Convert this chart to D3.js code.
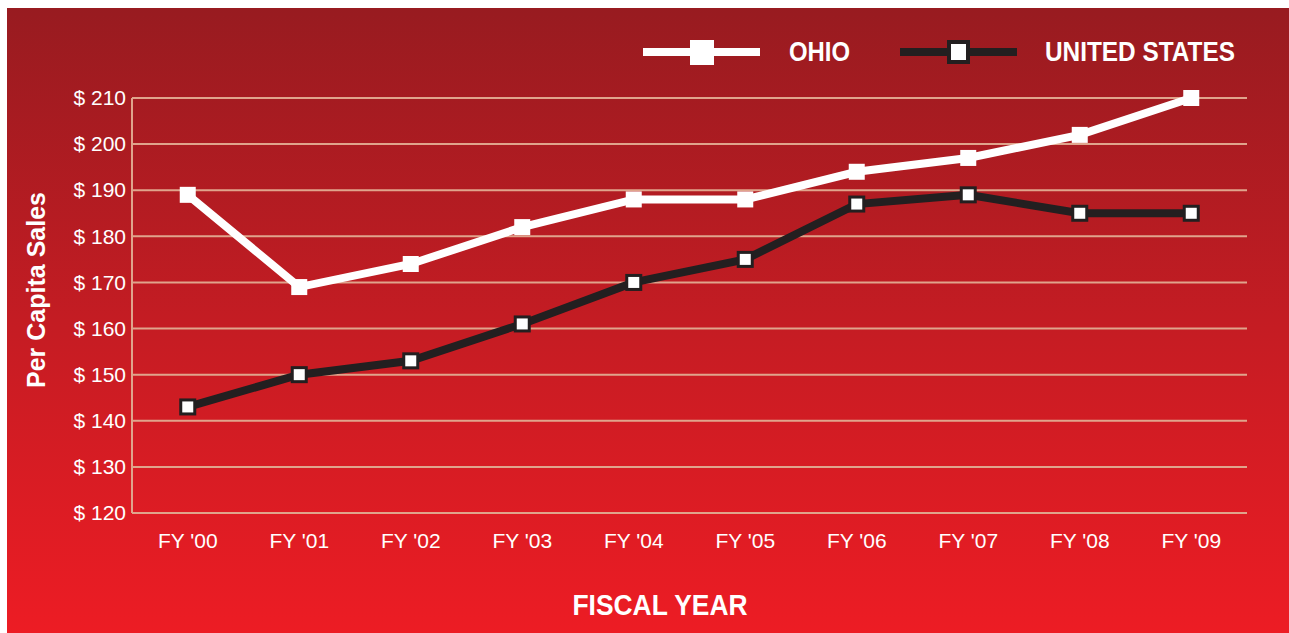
<!DOCTYPE html>
<html><head><meta charset="utf-8">
<script src="https://cdn.jsdelivr.net/npm/d3@7"></script>
<style>
html,body{margin:0;padding:0;background:#fff;}
svg{display:block;}
text{font-family:'Liberation Sans Narrow','Arial Narrow','Liberation Sans',sans-serif;}
</style></head>
<body>
<svg id="chart" width="1289" height="633"></svg>
<script>
const years = ["FY '00","FY '01","FY '02","FY '03","FY '04","FY '05","FY '06","FY '07","FY '08","FY '09"];
const ohio = [189,169,174,182,188,188,194,197,202,210];
const us = [143,150,153,161,170,175,187,189,185,185];
const yTicks = [120,130,140,150,160,170,180,190,200,210];

(function(){
const svg = d3.select("#chart");
const defs = svg.append("defs");
const grad = defs.append("linearGradient").attr("id","bg").attr("x1",0).attr("y1",0).attr("x2",0).attr("y2",1);
grad.append("stop").attr("offset","0%").attr("stop-color","#981b20");
grad.append("stop").attr("offset","50%").attr("stop-color","#c41c23");
grad.append("stop").attr("offset","100%").attr("stop-color","#ed1c24");

svg.append("rect").attr("x",7).attr("y",8).attr("width",1282).attr("height",625).attr("fill","url(#bg)");

const pL=132, pR=1247, pT=98, pB=513;
const x = d3.scaleBand().domain(years).range([pL,pR]);
const y = d3.scaleLinear().domain([120,210]).range([pB,pT]);
const gridColor = "#e0a48c";

svg.append("g").selectAll("line").data(yTicks).join("line")
  .attr("x1",pL).attr("x2",pR).attr("y1",d=>y(d)).attr("y2",d=>y(d))
  .attr("stroke",gridColor).attr("stroke-width",2);
svg.append("line").attr("x1",pL).attr("x2",pL).attr("y1",pT).attr("y2",pB)
  .attr("stroke",gridColor).attr("stroke-width",2);

const yAxis = d3.axisLeft(y).tickValues(yTicks).tickFormat(d=>"$ "+d).tickSize(0).tickPadding(6);
const ya = svg.append("g").attr("transform",`translate(${pL},0)`).call(yAxis);
ya.select(".domain").remove();
ya.selectAll("text").attr("fill","#fff").attr("font-size",21).style("font-family","'Liberation Sans Narrow','Liberation Sans',sans-serif");

const xAxis = d3.axisBottom(x).tickSize(0).tickPadding(20);
const xa = svg.append("g").attr("transform",`translate(0,${pB})`).call(xAxis);
xa.select(".domain").remove();
xa.selectAll("text").attr("fill","#fff").attr("font-size",21).style("font-family","'Liberation Sans Narrow','Liberation Sans',sans-serif");

const cx = d => x(d) + x.bandwidth()/2;
const line = d3.line().x((d,i)=>cx(years[i])).y(d=>y(d));

svg.append("path").datum(us).attr("d",line).attr("fill","none").attr("stroke","#231f20").attr("stroke-width",8);
svg.append("g").selectAll("rect").data(us).join("rect")
  .attr("x",(d,i)=>cx(years[i])-7).attr("y",d=>y(d)-7).attr("width",14).attr("height",14)
  .attr("fill","#fff").attr("stroke","#231f20").attr("stroke-width",3);

svg.append("path").datum(ohio).attr("d",line).attr("fill","none").attr("stroke","#fff").attr("stroke-width",8);
svg.append("g").selectAll("rect").data(ohio).join("rect")
  .attr("x",(d,i)=>cx(years[i])-8).attr("y",d=>y(d)-8).attr("width",16).attr("height",16)
  .attr("fill","#fff");

const lg = svg.append("g");
lg.append("line").attr("x1",643).attr("x2",760).attr("y1",52).attr("y2",52).attr("stroke","#fff").attr("stroke-width",8);
lg.append("rect").attr("x",690).attr("y",40).attr("width",24).attr("height",25).attr("fill","#fff");
lg.append("text").attr("x",789).attr("y",61).text("OHIO").attr("fill","#fff").attr("font-size",27).attr("font-weight","bold")
  .attr("textLength",61).attr("lengthAdjust","spacingAndGlyphs");
lg.append("line").attr("x1",900).attr("x2",1017).attr("y1",52).attr("y2",52).attr("stroke","#231f20").attr("stroke-width",8);
lg.append("rect").attr("x",949).attr("y",42).attr("width",19).attr("height",20).attr("fill","#fff").attr("stroke","#231f20").attr("stroke-width",4);
lg.append("text").attr("x",1045).attr("y",61).text("UNITED STATES").attr("fill","#fff").attr("font-size",27).attr("font-weight","bold")
  .attr("textLength",190).attr("lengthAdjust","spacingAndGlyphs");

svg.append("text").attr("transform","translate(45,290) rotate(-90)").attr("text-anchor","middle")
  .text("Per Capita Sales").attr("fill","#fff").attr("font-size",25).attr("font-weight","bold")
  .style("font-family","'Liberation Sans',Arial,sans-serif");
svg.append("text").attr("x",660).attr("y",615).attr("text-anchor","middle")
  .text("FISCAL YEAR").attr("fill","#fff").attr("font-size",29).attr("font-weight","bold")
  .attr("textLength",175).attr("lengthAdjust","spacingAndGlyphs");
})();
</script>
</body></html>
